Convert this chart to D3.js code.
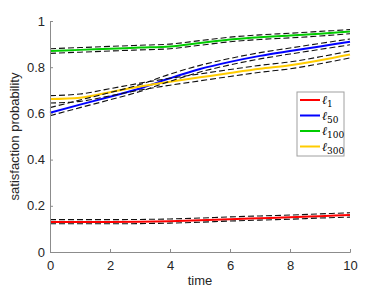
<!DOCTYPE html>
<html>
<head>
<meta charset="utf-8">
<script src="https://cdn.jsdelivr.net/npm/d3@7"></script>
<style>
body { margin: 0; background: #fff; }
text { font-family: "Liberation Sans", Arial, sans-serif; }
</style>
</head>
<body>
<div class="container"></div>
<script>
// datos
const time = [0, 1, 2, 3, 4, 5, 6, 7, 8, 9, 10]

const l1 = [0.130, 0.130, 0.130, 0.131, 0.133, 0.137, 0.142, 0.146, 0.150, 0.155, 0.160]
const l1Low = [0.122, 0.122, 0.122, 0.123, 0.125, 0.129, 0.134, 0.138, 0.142, 0.147, 0.151]
const l1Up = [0.140, 0.140, 0.140, 0.141, 0.143, 0.147, 0.152, 0.156, 0.160, 0.165, 0.170]

const l50 = [0.603, 0.638, 0.672, 0.708, 0.752, 0.792, 0.823, 0.849, 0.870, 0.890, 0.910]
const l50Low = [0.590, 0.625, 0.659, 0.695, 0.739, 0.779, 0.810, 0.836, 0.857, 0.877, 0.897]
const l50Up = [0.625, 0.658, 0.690, 0.725, 0.770, 0.808, 0.838, 0.863, 0.883, 0.903, 0.922]

const l100 = [0.870, 0.875, 0.880, 0.885, 0.890, 0.905, 0.920, 0.930, 0.937, 0.945, 0.955]
const l100Low = [0.860, 0.865, 0.870, 0.875, 0.880, 0.895, 0.910, 0.920, 0.927, 0.935, 0.945]
const l100Up = [0.880, 0.885, 0.890, 0.895, 0.900, 0.915, 0.930, 0.940, 0.947, 0.955, 0.963]

const l300 = [0.662, 0.668, 0.692, 0.716, 0.737, 0.756, 0.775, 0.793, 0.808, 0.830, 0.855]
const l300Low = [0.645, 0.652, 0.676, 0.701, 0.722, 0.741, 0.760, 0.778, 0.793, 0.815, 0.840]
const l300Up = [0.677, 0.684, 0.707, 0.731, 0.752, 0.771, 0.790, 0.808, 0.823, 0.845, 0.870]

const xTicks = [0, 2, 4, 6, 8, 10]
const yTicks = [0, 0.2, 0.4, 0.6, 0.8, 1]

const series = [
    {name: "1", mean: l1, low: l1Low, up: l1Up, color: "#ff0000"},
    {name: "50", mean: l50, low: l50Low, up: l50Up, color: "#0000ff"},
    {name: "100", mean: l100, low: l100Low, up: l100Up, color: "#00cc00"},
    {name: "300", mean: l300, low: l300Low, up: l300Up, color: "#ffcc00"}
]

const width = 386
const height = 290
const margin = {top: 21, bottom: 38, left: 50, right: 36}

const svg = d3.select(".container").append("svg").attr("width", width).attr("height", height)
const elementGroup = svg.append("g").attr("id", "elementGroup")
const axisGroup = svg.append("g").attr("id", "axisGroup")

let x = d3.scaleLinear().domain([0, 10]).range([margin.left, width - margin.right])
let y = d3.scaleLinear().domain([0, 1]).range([height - margin.bottom, margin.top])

// ejes estilo matlab, ticks hacia dentro
const xAxis = d3.axisBottom(x).tickValues(xTicks).tickSize(-3).tickPadding(9).tickFormat(d3.format("d"))
const yAxis = d3.axisLeft(y).tickValues(yTicks).tickSize(-3).tickPadding(5).tickFormat(d => d)

const xAxisGroup = axisGroup.append("g").attr("transform", `translate(0, ${height - margin.bottom})`).call(xAxis)
const yAxisGroup = axisGroup.append("g").attr("transform", `translate(${margin.left}, 0)`).call(yAxis)

axisGroup.selectAll("path.domain").attr("stroke", "#8c8c8c")
axisGroup.selectAll(".tick line").attr("stroke", "#8c8c8c")
axisGroup.selectAll(".tick text").attr("fill", "#262626").style("font-size", "13px")

const line = arr => d3.line().x((d, i) => x(time[i])).y(d => y(d)).curve(d3.curveMonotoneX)(arr)

series.forEach(s => {
    elementGroup.append("path").attr("d", line(s.mean))
        .attr("fill", "none").attr("stroke", s.color).attr("stroke-width", 2)
})
series.forEach(s => {
    [s.low, s.up].forEach(b => {
        elementGroup.append("path").attr("d", line(b))
            .attr("fill", "none").attr("stroke", "#111").attr("stroke-width", 1.1)
            .attr("stroke-dasharray", "6,3")
    })
})

// etiquetas
svg.append("text").attr("x", (x(0) + x(10)) / 2).attr("y", 285)
    .attr("text-anchor", "middle").style("font-size", "13px").attr("fill", "#262626").text("time")
svg.append("text").attr("transform", `translate(19, ${(y(0) + y(1)) / 2}) rotate(-90)`)
    .attr("text-anchor", "middle").style("font-size", "13px").attr("fill", "#262626").text("satisfaction probability")

// leyenda
const legend = svg.append("g").attr("transform", "translate(297, 92)")
legend.append("rect").attr("width", 47).attr("height", 64)
    .attr("fill", "#fff").attr("stroke", "#a0a0a0").attr("stroke-width", 1)
series.forEach((s, i) => {
    const yy = 8 + i * 15.5
    legend.append("line").attr("x1", 3).attr("x2", 23).attr("y1", yy).attr("y2", yy)
        .attr("stroke", s.color).attr("stroke-width", 2)
    const t = legend.append("text").attr("x", 25).attr("y", yy + 4)
        .style("font-family", "'DejaVu Serif', serif").style("font-size", "12px").attr("fill", "#000")
    t.append("tspan").style("font-style", "italic").text("ℓ")
    t.append("tspan").attr("dy", 3).style("font-size", "9px").text(s.name)
})
</script>
</body>
</html>
